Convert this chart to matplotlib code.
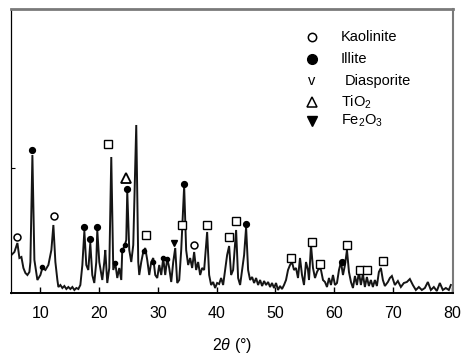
import numpy as np
import matplotlib.pyplot as plt

plt.rcParams['font.family'] = ['Liberation Sans', 'DejaVu Sans']
plt.rcParams['mathtext.fontset'] = 'custom'
plt.rcParams['mathtext.rm'] = 'Liberation Sans'
plt.rcParams['mathtext.it'] = 'Liberation Sans:italic'

# XRD trace: 2theta (deg), intensity (a.u.)
two_theta = [5.07, 5.58, 6.09, 6.43, 6.77, 7.11, 7.45, 7.79, 8.13, 8.30, 8.64, 8.98, 9.49, 10.00,
             10.34, 10.85, 11.36, 11.87, 12.21, 12.55, 12.89, 13.06, 13.40, 13.74, 14.08, 14.42,
             14.76, 15.10, 15.44, 15.78, 16.12, 16.46, 16.80, 17.14, 17.48, 17.81, 18.15, 18.49,
             18.83, 19.17, 19.51, 19.68, 20.02, 20.19, 20.53, 20.87, 21.04, 21.38, 21.72, 22.06,
             22.40, 22.74, 23.08, 23.42, 23.76, 23.93, 24.27, 24.61, 24.78, 25.12, 25.46, 25.80,
             26.31, 26.65, 26.82, 27.16, 27.50, 27.84, 28.18, 28.52, 28.86, 29.20, 29.54, 29.88,
             30.22, 30.56, 30.90, 31.24, 31.58, 31.92, 32.26, 32.60, 32.94, 33.28, 33.62, 33.96,
             34.46, 34.80, 35.14, 35.48, 35.82, 36.16, 36.50, 36.84, 37.18, 37.52, 37.86, 38.37,
             38.71, 39.05, 39.39, 39.73, 40.07, 40.41, 40.75, 41.09, 41.43, 41.77, 42.11, 42.45,
             42.79, 43.30, 43.64, 43.98, 44.32, 44.66, 45.00, 45.34, 45.68, 46.02, 46.36, 46.70,
             47.04, 47.38, 47.72, 48.06, 48.40, 48.74, 49.08, 49.41, 49.75, 50.09, 50.43, 50.77,
             51.11, 51.45, 51.79, 52.13, 52.47, 52.81, 53.15, 53.49, 53.83, 54.17, 54.51, 54.85,
             55.19, 55.53, 55.70, 56.04, 56.38, 56.72, 57.06, 57.40, 57.74, 58.08, 58.42, 58.76,
             59.10, 59.44, 59.78, 60.12, 60.46, 60.80, 61.14, 61.48, 61.82, 62.16, 62.50, 62.84,
             63.18, 63.52, 63.86, 64.19, 64.53, 64.87, 65.21, 65.55, 65.89, 66.23, 66.57, 66.91,
             67.25, 67.59, 67.93, 68.27, 68.61, 69.12, 69.46, 69.80, 70.31, 70.82, 71.33, 71.84,
             72.35, 72.86, 73.37, 73.88, 74.39, 74.90, 75.41, 75.92, 76.43, 76.94, 77.45, 77.96,
             78.47, 78.98, 79.49, 79.83]
intensity = [38, 41, 50, 35, 36, 25, 20, 18, 21, 31, 138, 33, 13, 18,
             25, 23, 28, 43, 68, 31, 13, 6, 8, 5, 7, 4,
             6, 4, 6, 3, 5, 4, 8, 28, 62, 28, 23, 50,
             18, 10, 31, 63, 31, 25, 13, 31, 43, 10, 25, 136,
             23, 30, 15, 25, 13, 43, 46, 53, 102, 43, 31, 48,
             168, 31, 18, 31, 41, 45, 33, 18, 31, 35, 18, 15,
             28, 18, 35, 18, 35, 25, 11, 31, 45, 10, 13, 43,
             107, 43, 28, 35, 25, 41, 23, 31, 18, 25, 23, 61,
             18, 8, 11, 5, 10, 9, 15, 8, 23, 38, 47, 18,
             23, 63, 15, 8, 23, 38, 66, 23, 13, 16, 10, 15,
             8, 13, 7, 12, 8, 11, 6, 10, 5, 10, 3, 7,
             4, 8, 13, 23, 28, 31, 23, 25, 15, 35, 18, 8,
             31, 23, 13, 48, 25, 15, 21, 25, 23, 13, 11, 6,
             15, 8, 18, 8, 10, 23, 31, 18, 28, 43, 21, 11,
             5, 17, 8, 21, 8, 19, 6, 16, 7, 13, 6, 13,
             7, 21, 25, 13, 7, 11, 15, 17, 8, 12, 6, 10,
             11, 14, 8, 3, 6, 3, 5, 11, 3, 6, 2, 10,
             3, 5, 3, 8]

# peak labels
kaol_x = [6.09, 12.38, 36.16]
kaol_y = [56, 77, 48]
illite_x = [8.64, 17.48, 18.49, 19.68, 24.78, 34.46, 45.00, 61.31]
illite_y = [143, 66, 54, 66, 104, 109, 69, 31]
illite_small_x = [10.34, 22.74, 23.93, 24.44, 27.67, 29.20, 30.90, 31.58]
illite_small_y = [26, 30, 43, 48, 42, 31, 35, 34]
square_x = [21.55, 28.01, 34.13, 38.37, 42.11, 43.30, 52.64, 56.21, 57.57, 62.16, 64.36, 65.55, 68.27]
square_y = [149, 58, 68, 68, 56, 72, 35, 51, 29, 48, 23, 23, 32]
tio2_x = [24.61]
tio2_y = [115]
fe2o3_x = [32.77]
fe2o3_y = [50]

legend_labels = ['Kaolinite', 'Illite', 'Diasporite', 'TiO$_2$', 'Fe$_2$O$_3$']

fig = plt.figure(figsize=(4.65, 3.56), dpi=100)
ax = fig.add_axes([11 / 465, 1 - 293 / 356, 442 / 465, 284 / 356])

ax.plot(two_theta, intensity, color='#151515', lw=1.4, solid_joinstyle='miter')

ax.plot(kaol_x, kaol_y, 'o', ms=5, mfc='white', mec='black', mew=1.1, ls='none')
ax.plot(illite_x, illite_y, 'o', ms=4.2, color='black', ls='none')
ax.plot(illite_small_x, illite_small_y, 'o', ms=3, color='black', ls='none')
ax.plot(square_x, square_y, 's', ms=6, mfc='white', mec='black', mew=1.0, ls='none')
ax.plot(tio2_x, tio2_y, '^', ms=6.5, mfc='white', mec='black', mew=1.3, ls='none')
ax.plot(fe2o3_x, fe2o3_y, 'v', ms=5, color='black', ls='none')

ax.set_xlim(5.0, 80.2)
ax.set_ylim(0, 284)
ax.set_xticks([10, 20, 30, 40, 50, 60, 70, 80])
ax.set_yticks([125])
ax.set_yticklabels([])
ax.tick_params(axis='x', direction='in', length=4, width=1, pad=9, labelsize=11.5)
ax.tick_params(axis='y', direction='in', length=3, width=0.8)
ax.set_xlabel(r'2$\mathit{\theta}$ (°)', fontsize=11.5, labelpad=11)

ax.spines['top'].set_color('#7a7a7a')
ax.spines['top'].set_linewidth(2)
ax.spines['right'].set_color('#7a7a7a')
ax.spines['right'].set_linewidth(1.5)
ax.spines['left'].set_linewidth(0.9)
ax.spines['bottom'].set_linewidth(1.4)

# legend drawn as plain text with symbols
sym_x = 311.5 / 465
txt_x = 341 / 465
rows_y = [1 - 37 / 356, 1 - 59 / 356, 1 - 81 / 356, 1 - 102 / 356, 1 - 121 / 356]
fig.lines.append(plt.Line2D([sym_x], [rows_y[0]], marker='o', ms=6, mfc='white', mec='black',
                            mew=1.1, transform=fig.transFigure))
fig.lines.append(plt.Line2D([sym_x], [rows_y[1]], marker='o', ms=7, color='black',
                            transform=fig.transFigure))
fig.text(sym_x, rows_y[2], 'v', ha='center', va='center', fontsize=10.5)
fig.lines.append(plt.Line2D([sym_x], [rows_y[3]], marker='^', ms=7, mfc='white', mec='black',
                            mew=1.1, transform=fig.transFigure))
fig.lines.append(plt.Line2D([sym_x], [rows_y[4]], marker='v', ms=7, color='black',
                            transform=fig.transFigure))
for i, lab in enumerate(legend_labels):
    x0 = 345 / 465 if lab == 'Diasporite' else txt_x
    fig.text(x0, rows_y[i], lab, ha='left', va='center', fontsize=10.5)

fig.savefig('out.png', dpi=100)
